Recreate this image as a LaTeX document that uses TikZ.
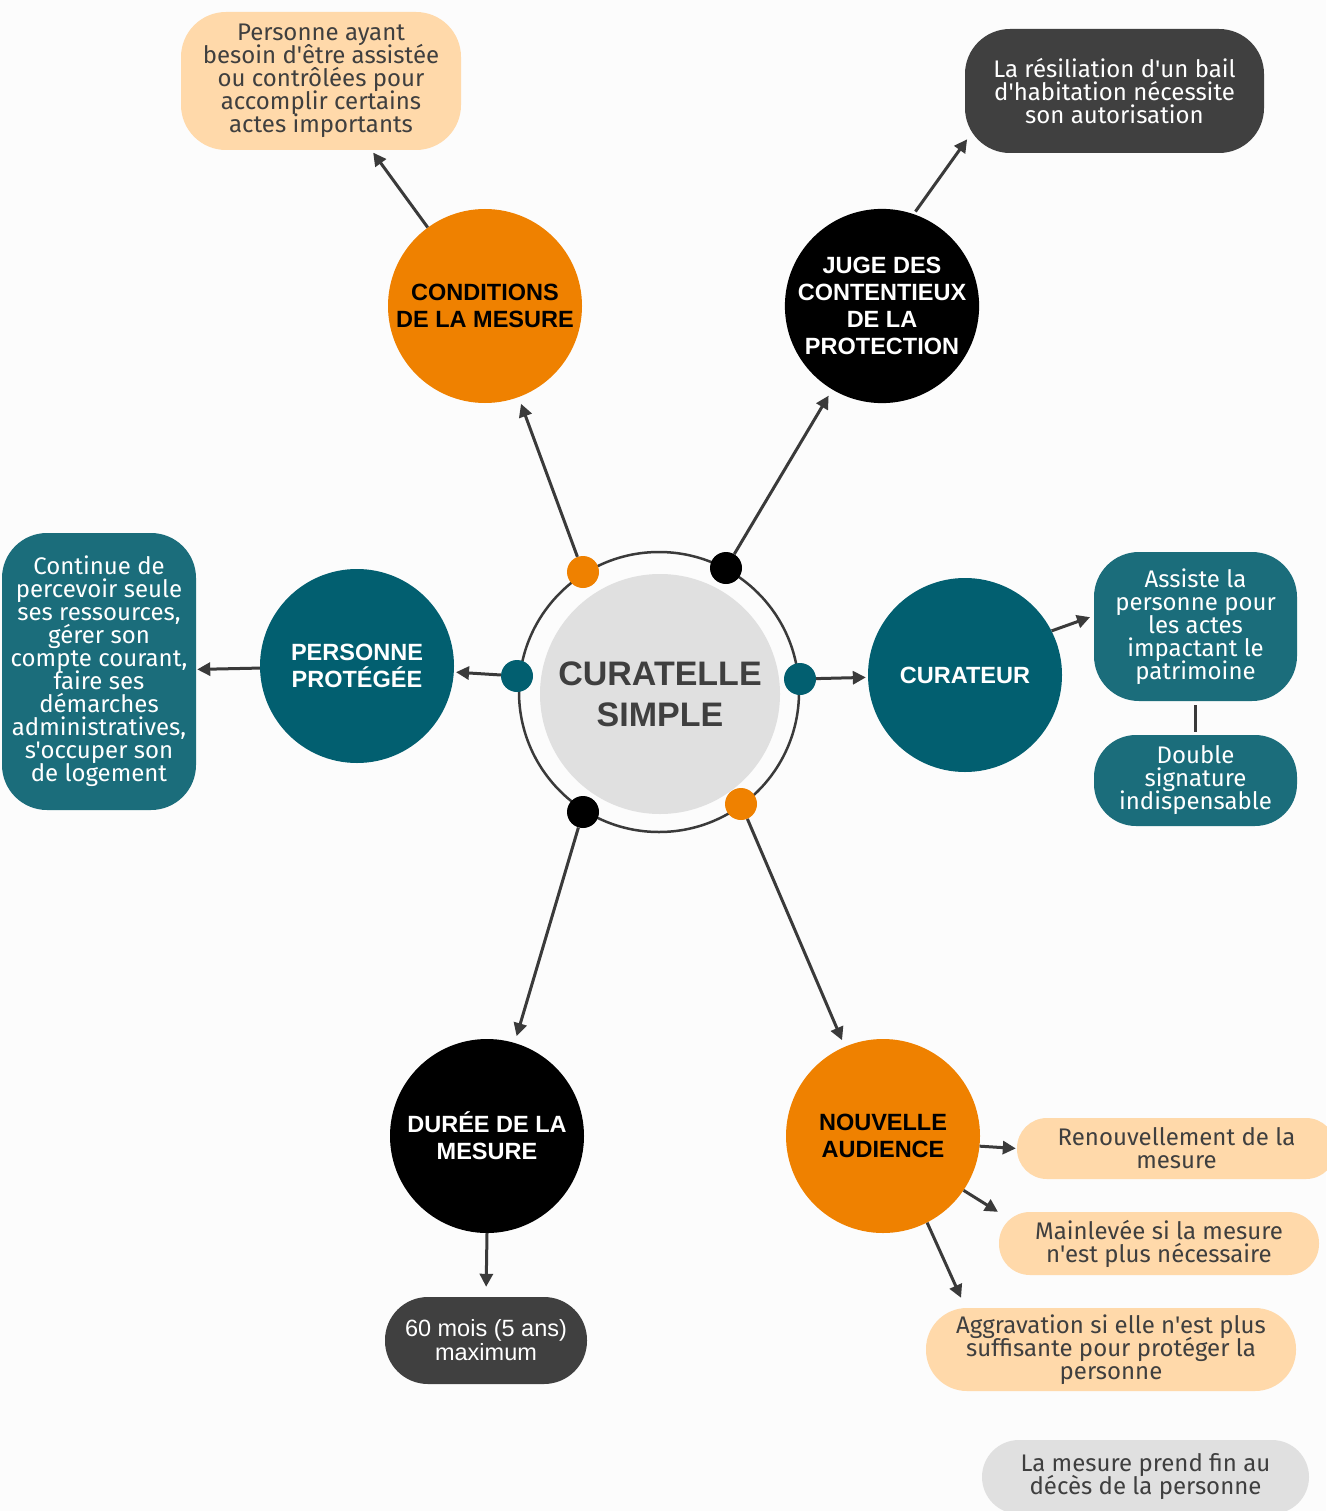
\documentclass[tikz,border=0pt]{standalone}
\usepackage{fontspec}
\usetikzlibrary{arrows.meta,calc}
\newfontfamily\bodyf{Fira Sans}
\newfontfamily\headf{Liberation Sans}
\newcommand\tightls{\lineskiplimit=-50pt\relax\lineskip=0pt\relax}
\definecolor{orng}{HTML}{EF8100}
\definecolor{peach}{HTML}{FFD9AA}
\definecolor{tealc}{HTML}{025F70}
\definecolor{tealb}{HTML}{1B6D7B}
\definecolor{darkb}{HTML}{404040}
\definecolor{greyc}{HTML}{E0E0E0}
\definecolor{txtg}{HTML}{3F3F3F}
\definecolor{arrc}{HTML}{3A3A3A}
\begin{document}
\begin{tikzpicture}[x=1pt,y=-1pt,
  bigc/.style={circle,minimum size=194pt,inner sep=0pt,align=center,
    font=\headf\bfseries\fontsize{23.5}{27}\selectfont},
  dotc/.style={circle,minimum size=32pt,inner sep=0pt},
  bx/.style={rectangle,inner sep=0pt,align=center,
    font=\bodyf\fontsize{24}{23}\selectfont\tightls},
  arr/.style={draw=arrc,line width=3pt,-{Triangle[length=13pt,width=13pt]}},
  lnk/.style={draw=arrc,line width=3pt}]
\useasboundingbox (0,0) rectangle (1326,1511);
\fill[white!99!black] (0,0) rectangle (1326,1511);

% central
\node[circle,draw=arrc,line width=2.5pt,minimum size=280pt,inner sep=0pt] (ring) at (659,692) {};
\node[circle,fill=greyc,minimum size=240pt,inner sep=0pt,align=center,text=txtg,
  font=\headf\bfseries\fontsize{34}{41}\selectfont] (center) at (660,694) {CURATELLE\\SIMPLE};

% dots
\node[dotc,fill=orng] (dotO1) at (583,572) {};
\node[dotc,fill=black] (dotK1) at (726,568) {};
\node[dotc,fill=tealc] (dotT1) at (517,676) {};
\node[dotc,fill=tealc] (dotT2) at (800,679) {};
\node[dotc,fill=black] (dotK2) at (583,812) {};
\node[dotc,fill=orng] (dotO2) at (741,804) {};

% big circles
\node[bigc,fill=orng,text=black] (cond) at (485,306) {CONDITIONS\\DE LA MESURE};
\node[bigc,fill=black,text=white] (juge) at (882,306) {JUGE DES\\CONTENTIEUX\\DE LA\\PROTECTION};
\node[bigc,fill=tealc,text=white] (pp) at (357,666) {PERSONNE\\PROTÉGÉE};
\node[bigc,fill=tealc,text=white] (cur) at (965,675) {CURATEUR};
\node[bigc,fill=black,text=white] (duree) at (487,1136) {DURÉE DE LA\\MESURE};
\node[bigc,fill=orng,text=black] (nouv) at (883,1136) {NOUVELLE\\AUDIENCE};

% boxes
\node[bx,fill=peach,text=txtg,rounded corners=45pt,minimum width=280pt,minimum height=138pt] (boxA) at (321,81)
  {Personne ayant\\besoin d'être assistée\\ou contrôlées pour\\accomplir certains\\actes importants};
\node[bx,fill=darkb,text=white,rounded corners=45pt,minimum width=299pt,minimum height=124pt] (res) at (1114.5,91)
  {La résiliation d'un bail\\d'habitation nécessite\\son autorisation};
\node[bx,fill=tealb,text=white,rounded corners=45pt,minimum width=194pt,minimum height=277pt] (cont) at (99,671.5)
  {Continue de\\percevoir seule\\ses ressources,\\gérer son\\compte courant,\\faire ses\\démarches\\administratives,\\s'occuper son\\de logement};
\node[bx,fill=tealb,text=white,rounded corners=45pt,minimum width=203pt,minimum height=149pt] (assiste) at (1195.5,626.5)
  {Assiste la\\personne pour\\les actes\\impactant le\\patrimoine};
\node[bx,fill=tealb,text=white,rounded corners=42pt,minimum width=203pt,minimum height=91pt] (double) at (1195.5,780.5)
  {Double\\signature\\indispensable};
\node[bx,fill=peach,text=txtg,rounded corners=30pt,minimum width=319pt,minimum height=61pt] (renouv) at (1176.5,1148.5)
  {Renouvellement de la\\mesure};
\node[bx,fill=peach,text=txtg,rounded corners=31pt,minimum width=320pt,minimum height=63pt] (mainlev) at (1159,1243.5)
  {Mainlevée si la mesure\\n'est plus nécessaire};
\node[bx,fill=peach,text=txtg,rounded corners=41pt,minimum width=370pt,minimum height=83pt] (aggrav) at (1111,1349.5)
  {Aggravation si elle n'est plus\\suffisante pour protéger la\\personne};
\node[bx,fill=darkb,text=white,rounded corners=43pt,minimum width=202pt,minimum height=87pt,
  font=\headf\fontsize{23.5}{24}\selectfont] (sixty) at (486,1340.5)
  {60 mois (5 ans)\\maximum};
\node[bx,fill=greyc,text=txtg,rounded corners=37pt,minimum width=327pt,minimum height=74pt] (fin) at (1145.5,1477)
  {La mesure prend fin au\\décès de la personne};

% connectors
\draw[arr,shorten >=7pt] (dotO1) -- (cond);
\draw[arr,shorten >=3pt] (cond) -- (boxA);
\draw[arr,shorten >=7pt] (dotK1) -- (juge);
\draw[arr,shorten <=3pt,shorten >=-4pt] (juge.71) -- (res.199);
\draw[arr,shorten >=2pt] (dotT1) -- (pp);
\draw[arr,shorten >=1pt] (pp) -- (cont);
\draw[arr,shorten >=2pt] (dotT2) -- (cur);
\draw[arr,shorten >=4pt] (cur.27) -- (assiste.174);
\draw[lnk,shorten <=4pt,shorten >=3pt] (assiste.south) -- (double.north);
\draw[arr,shorten >=7pt] (dotK2) -- (duree);
\draw[arr,shorten >=7pt] (dotO2) -- (nouv);
\draw[arr,shorten >=10pt] (duree.south) -- (sixty.north);
\draw[arr,shorten >=1pt] (nouv.-6) -- (renouv.west);
\draw[arr,shorten >=1pt] (nouv.-34) -- (mainlev.169);
\draw[arr,shorten >=11pt] (nouv.-63) -- (aggrav.164);
\end{tikzpicture}
\end{document}
